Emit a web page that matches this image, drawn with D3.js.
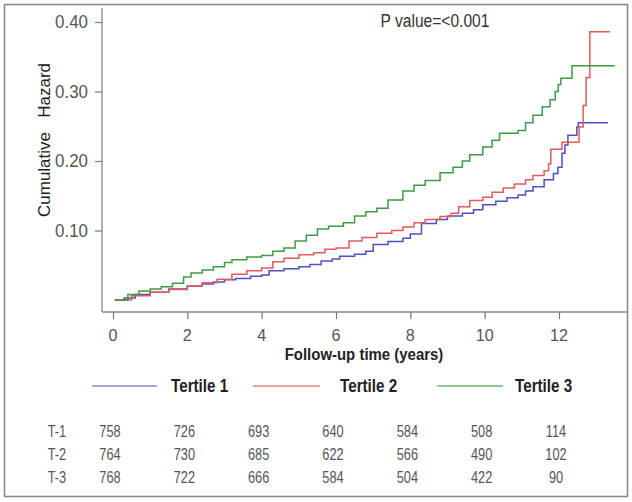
<!DOCTYPE html>
<html>
<head>
<meta charset="utf-8">
<script src="https://cdn.jsdelivr.net/npm/d3@7"></script>
<style>
  html, body { margin: 0; padding: 0; background: #fff; }
  svg { display: block; }
  text { font-family: "Liberation Sans", Arial, sans-serif; }
</style>
</head>
<body>
<svg id="chart" width="632" height="502"></svg>
<script>
// ---------------- data ----------------
const seriesNames = ["Tertile 1", "Tertile 2", "Tertile 3"];

const tertile1Time   = [0.05, 0.3, 0.6, 1.0, 1.5, 2.0, 2.4, 2.7, 3.0, 3.3, 3.7, 4.0, 4.2, 4.6, 5.0, 5.3, 5.6, 5.9, 6.1, 6.5, 6.8, 7.0, 7.4, 7.8, 8.0, 8.3, 8.7, 9.0, 9.4, 9.7, 9.95, 10.3, 10.6, 10.9, 11.1, 11.3, 11.6, 11.85, 11.97, 12.08, 12.16, 12.24, 12.48, 12.52, 13.32];
const tertile1Hazard = [0.000, 0.003, 0.008, 0.011, 0.016, 0.020, 0.023, 0.026, 0.029, 0.031, 0.034, 0.036, 0.042, 0.045, 0.048, 0.051, 0.056, 0.059, 0.063, 0.066, 0.070, 0.080, 0.084, 0.089, 0.095, 0.110, 0.116, 0.121, 0.125, 0.130, 0.137, 0.142, 0.147, 0.151, 0.157, 0.163, 0.173, 0.182, 0.191, 0.211, 0.223, 0.237, 0.249, 0.255, 0.255];

const tertile2Time   = [0.05, 0.5, 1.0, 1.5, 2.0, 2.4, 2.8, 3.2, 3.6, 4.0, 4.3, 4.6, 5.0, 5.4, 5.7, 6.0, 6.35, 6.7, 7.1, 7.5, 7.8, 8.1, 8.4, 8.8, 9.1, 9.3, 9.6, 9.95, 10.2, 10.5, 10.8, 11.1, 11.3, 11.6, 11.72, 11.78, 12.08, 12.54, 12.65, 12.73, 12.83, 13.37];
const tertile2Hazard = [0.000, 0.006, 0.011, 0.015, 0.020, 0.025, 0.030, 0.037, 0.042, 0.046, 0.055, 0.060, 0.065, 0.068, 0.073, 0.075, 0.085, 0.090, 0.096, 0.100, 0.105, 0.111, 0.116, 0.120, 0.125, 0.134, 0.143, 0.148, 0.155, 0.161, 0.167, 0.173, 0.179, 0.186, 0.196, 0.217, 0.227, 0.249, 0.280, 0.320, 0.386, 0.386];

const tertile3Time   = [0.05, 0.4, 0.7, 1.0, 1.3, 1.6, 1.9, 2.1, 2.4, 2.7, 3.0, 3.2, 3.6, 4.0, 4.3, 4.6, 4.9, 5.2, 5.5, 5.8, 6.2, 6.5, 6.8, 7.1, 7.4, 7.8, 8.1, 8.4, 8.8, 9.15, 9.4, 9.6, 9.95, 10.2, 10.4, 10.9, 11.1, 11.3, 11.55, 11.76, 11.9, 11.98, 12.05, 12.35, 13.5];
const tertile3Hazard = [0.000, 0.008, 0.013, 0.016, 0.019, 0.024, 0.033, 0.039, 0.043, 0.048, 0.054, 0.058, 0.062, 0.064, 0.070, 0.075, 0.085, 0.093, 0.102, 0.106, 0.111, 0.121, 0.127, 0.132, 0.144, 0.157, 0.165, 0.172, 0.183, 0.191, 0.200, 0.209, 0.220, 0.230, 0.240, 0.244, 0.255, 0.266, 0.278, 0.288, 0.300, 0.310, 0.319, 0.337, 0.337];

const xTickValues = [0, 2, 4, 6, 8, 10, 12];
const yTickValues = [0.10, 0.20, 0.30, 0.40];

const riskRowLabels = ["T-1", "T-2", "T-3"];
const riskT1 = [758, 726, 693, 640, 584, 508, 114];
const riskT2 = [764, 730, 685, 622, 566, 490, 102];
const riskT3 = [768, 722, 666, 584, 504, 422, 90];

const pValueText = "P value=<0.001";
const xTitle = "Follow-up time (years)";
const yTitle = "Cumulative   Hazard";

// ---------------- drawing ----------------
const svg = d3.select("#chart");
const lineColors   = ["#4e4ec6", "#e05a5e", "#3f9a44"];
const legendColors = ["#8a8ad0", "#d98585", "#72b276"];

const x = d3.scaleLinear().domain([0, 12]).range([113, 559]);
const y = d3.scaleLinear().domain([0, 0.4]).range([300, 22]);

function label(sel, px, py, str, o) {
  o = o || {};
  return sel.append("text")
    .attr("transform", `translate(${px},${py})` + (o.rot ? ` rotate(${o.rot})` : "") + ` scale(${o.sx || 1},1)`)
    .attr("text-anchor", o.anchor || "middle")
    .attr("font-size", o.size || 16)
    .attr("font-weight", o.bold ? "bold" : "normal")
    .attr("fill", o.fill || "#333")
    .style("white-space", "pre")
    .text(str);
}

// outer frame
svg.append("rect").attr("x", 4.5).attr("y", 4.5).attr("width", 623).attr("height", 492)
  .attr("fill", "none").attr("stroke", "#8a8a8a").attr("stroke-width", 1.6);

// axes lines
svg.append("line").attr("x1", 102).attr("x2", 627).attr("y1", 312).attr("y2", 312)
  .attr("stroke", "#8a8a8a").attr("stroke-width", 1.3);
svg.append("line").attr("x1", 102).attr("x2", 102).attr("y1", 8).attr("y2", 312)
  .attr("stroke", "#8a8a8a").attr("stroke-width", 1.3);

// x axis ticks
const xAxis = d3.axisBottom(x).tickValues(xTickValues).tickSize(7).tickFormat(d3.format("d"));
const gx = svg.append("g").attr("transform", "translate(0,312)").call(xAxis);
gx.select(".domain").remove();
gx.selectAll(".tick line").attr("stroke", "#777").attr("stroke-width", 1.2);
gx.selectAll(".tick text").remove();
xTickValues.forEach(v => label(svg, x(v), 341, String(v), {size: 17, fill: "#555", sx: 0.95}));

// y axis ticks
const yAxis = d3.axisLeft(y).tickValues(yTickValues).tickSize(7).tickFormat(d3.format(".2f"));
const gy = svg.append("g").attr("transform", "translate(102,0)").call(yAxis);
gy.select(".domain").remove();
gy.selectAll(".tick line").attr("stroke", "#777").attr("stroke-width", 1.2);
gy.selectAll(".tick text").remove();
yTickValues.forEach(v => label(svg, 88, y(v) + 6, d3.format(".2f")(v), {size: 18, fill: "#555", anchor: "end", sx: 0.94}));

// titles
label(svg, 50, 140, yTitle, {size: 17, fill: "#222", rot: -90, sx: 1});
label(svg, 364, 360, xTitle, {size: 17, fill: "#222", bold: true, sx: 0.88});
label(svg, 435, 27, pValueText, {size: 19, fill: "#333", sx: 0.82});

// curves
const series = [
  {name: seriesNames[0], t: tertile1Time, h: tertile1Hazard},
  {name: seriesNames[1], t: tertile2Time, h: tertile2Hazard},
  {name: seriesNames[2], t: tertile3Time, h: tertile3Hazard}
];
const line = d3.line().x(d => x(d[0])).y(d => y(d[1])).curve(d3.curveStepAfter);
[0, 1, 2].forEach(i => {
  const s = series[i];
  svg.append("path")
    .datum(s.t.map((tt, k) => [tt, s.h[k]]))
    .attr("d", line)
    .attr("fill", "none")
    .attr("stroke", lineColors[i])
    .attr("stroke-width", 1.5);
});

// legend
const legendX = [[92, 157, 171], [253, 320, 340], [437, 503, 515]];
seriesNames.forEach((n, i) => {
  const [a, b, tx] = legendX[i];
  svg.append("line").attr("x1", a).attr("x2", b).attr("y1", 386).attr("y2", 386)
    .attr("stroke", legendColors[i]).attr("stroke-width", 1.5);
  label(svg, tx, 392, n, {size: 17.5, bold: true, fill: "#222", anchor: "start", sx: 0.87});
});

// risk table
const riskRows = [riskT1, riskT2, riskT3];
const rowY = [437, 460, 483];
riskRows.forEach((row, r) => {
  label(svg, 57, rowY[r], riskRowLabels[r], {size: 16, fill: "#555", sx: 0.8});
  row.forEach((v, c) => label(svg, x(xTickValues[c]) - 3, rowY[r], String(v), {size: 16, fill: "#555", sx: 0.8}));
});
</script>
</body>
</html>
